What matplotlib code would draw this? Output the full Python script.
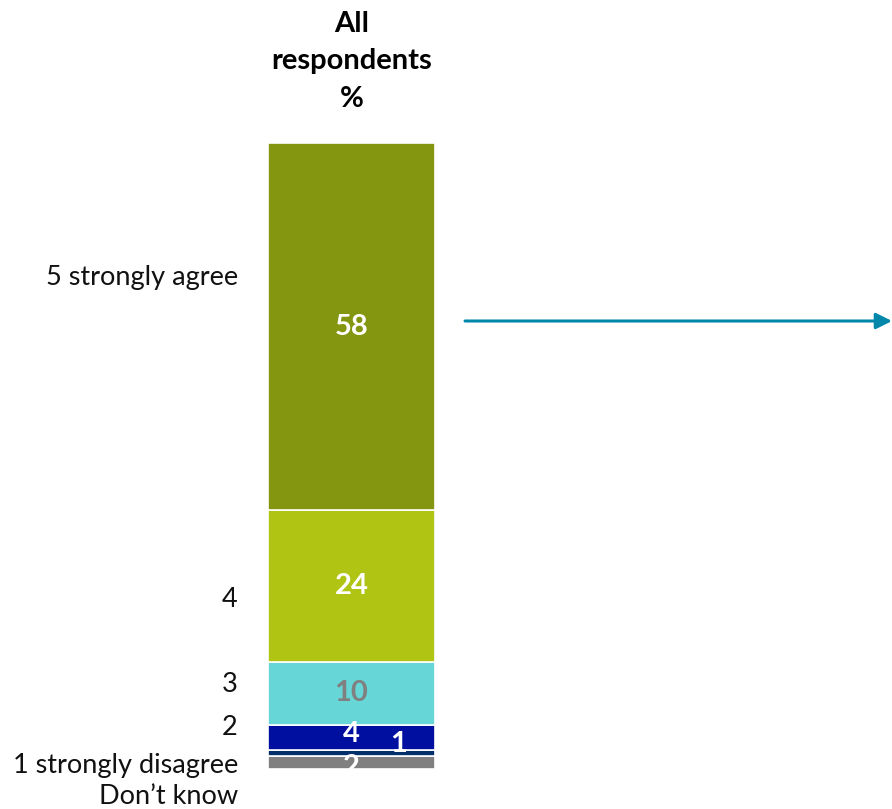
import matplotlib
matplotlib.use("Agg")
import matplotlib.pyplot as plt

# Responses, bottom to top of the stacked bar
categories = ["Don\u2019t know", "1 strongly disagree", "2", "3", "4", "5 strongly agree"]
values = [2, 1, 4, 10, 24, 58]
colors = ["#808080", "#002F6C", "#000FA0", "#66D6D6", "#B0C413", "#84950F"]
label_colors = ["white", "white", "white", "#808080", "white", "white"]
# vertical placement of the category captions (data units)
caption_y = [-4.3, 0.6, 6.6, 13.3, 26.9, 77.8]

plt.rcParams["font.family"] = ["Lato", "DejaVu Sans"]

fig = plt.figure(figsize=(8.92, 8.09), dpi=100)
ax = fig.add_axes([0, 0, 1, 1])
ax.set_xlim(-2.105, 3.237)
ax.set_ylim(-6.33, 121.7)
ax.axis("off")

bottom = 0
for i, (v, c) in enumerate(zip(values, colors)):
    ax.bar(0, v, bottom=bottom, width=1.0, color=c, edgecolor="white", linewidth=1.2)
    cy = bottom + v / 2
    tx = 0
    if v == 1:
        tx, cy = 0.28, bottom + 2.0
    elif v == 2:
        cy = bottom + 0.3
    elif v == 4:
        cy = bottom + v / 2 + 0.5
    ax.text(tx, cy, str(v), ha="center", va="center", color=label_colors[i],
            fontsize=21, fontweight="bold")
    ax.text(-0.68, caption_y[i], categories[i], ha="right", va="center",
            fontsize=19.5, color="#111111")
    bottom += v

ax.text(0, 112.0, "All\nrespondents\n%", ha="center", va="center",
        fontsize=21, fontweight="bold", linespacing=1.55)

ax.annotate("", xy=(3.237, 70.9), xytext=(0.68, 70.9),
            arrowprops=dict(arrowstyle="-|>", color="#0087AA", lw=2.2,
                            mutation_scale=24, shrinkA=0, shrinkB=0))

fig.savefig("out.png", dpi=100)
